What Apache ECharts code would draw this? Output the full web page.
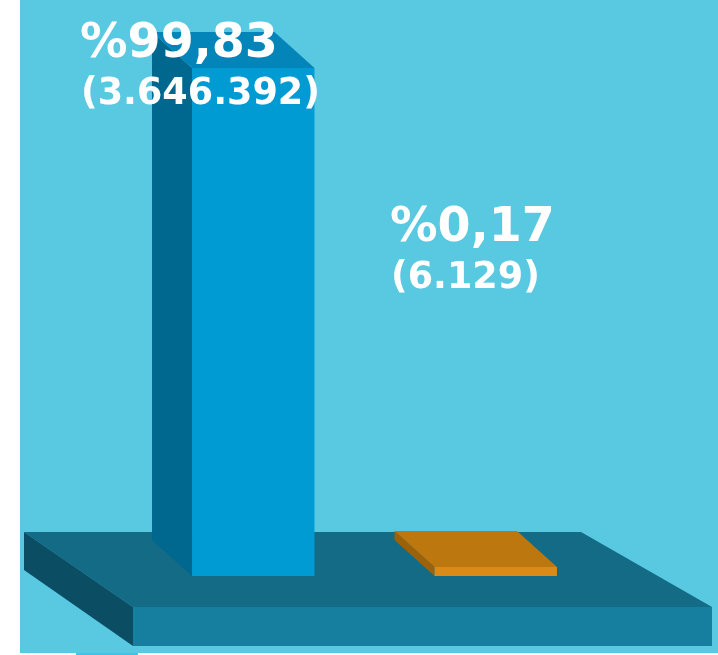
<!DOCTYPE html>
<html>
<head>
<meta charset="utf-8">
<script src="https://cdn.jsdelivr.net/npm/echarts@6/dist/echarts.min.js"></script>
<style>
  html, body { margin: 0; padding: 0; background: #fff; }
  #main { width: 718px; height: 655px; }
</style>
</head>
<body>
<div id="main"></div>
<script>
var categories = ['A', 'B'];
var values = [3646392, 6129];
// front / side / top colours per bar
var frontColors = ['#019bd4', '#da8a17'];
var sideColors = ['#00678f', '#9b620a'];
var topColors = ['#0385b9', '#bc770f'];

var total = values[0] + values[1];

function fmtCount(v) {
  return String(v).replace(/\B(?=(\d{3})+(?!\d))/g, '.');
}
function fmtPct(v) {
  return '%' + (v / total * 100).toFixed(2).replace('.', ',');
}

var chart = echarts.init(document.getElementById('main'));

// label anchors (left, top of the percent line)
var labelPos = [[80, 46], [390, 230]];

var texts = [];
values.forEach(function (v, i) {
  texts.push({
    type: 'text',
    z: 100,
    left: labelPos[i][0],
    top: labelPos[i][1] - 25,
    style: { text: fmtPct(v), fill: '#fff', font: 'bold 47.5px "DejaVu Sans"' }
  });
  texts.push({
    type: 'text',
    z: 100,
    left: labelPos[i][0] + 1,
    top: labelPos[i][1] + 30,
    style: { text: '(' + fmtCount(v) + ')', fill: '#fff', font: 'bold 36.5px "DejaVu Sans"' }
  });
});

var option = {
  animation: false,
  backgroundColor: '#fff',
  graphic: [
    { type: 'rect', z: -10, shape: { x: 20, y: 0, width: 698, height: 653 }, style: { fill: '#59c9e2' } },
    { type: 'rect', z: -10, shape: { x: 76, y: 653, width: 62, height: 2 }, style: { fill: '#3fc3e6' } }
  ].concat(texts),
  grid: { left: 132, right: 101, top: 68, bottom: 79 },
  xAxis: { type: 'category', data: categories, show: false },
  yAxis: { type: 'value', min: 0, max: values[0], show: false },
  series: [
    {
      // base platform
      type: 'custom',
      z: 1,
      data: [[0, 0]],
      renderItem: function (params, api) {
        var cs = params.coordSys;
        var b = cs.y + cs.height;
        var l = cs.x;
        return {
          type: 'group',
          children: [
            { type: 'polygon', shape: { points: [[l - 108, b - 44], [l + 449, b - 44], [l + 580, b + 31], [l + 1, b + 31]] }, style: { fill: '#136b86' } },
            { type: 'polygon', shape: { points: [[l - 108, b - 44], [l + 1, b + 31], [l + 1, b + 70], [l - 108, b - 6]] }, style: { fill: '#0b4e63' } },
            { type: 'rect', shape: { x: l + 1, y: b + 31, width: 579, height: 39 }, style: { fill: '#167f9f' } }
          ]
        };
      }
    },
    {
      type: 'custom',
      z: 2,
      data: values.map(function (v, i) { return [i, v]; }),
      renderItem: function (params, api) {
        var i = params.dataIndex;
        var base = api.coord([api.value(0), 0]);
        var top = api.coord([api.value(0), api.value(1)]);
        var w = api.size([1, 0])[0] * 0.505;
        var x0 = base[0] - w / 2, x1 = base[0] + w / 2;
        var y1 = base[1];
        var y0 = Math.min(top[1], y1 - 9);
        var dx = -40, dy = -36;
        return {
          type: 'group',
          children: [
            { type: 'polygon', shape: { points: [[x0, y0], [x0 + dx, y0 + dy], [x0 + dx, y1 + dy], [x0, y1]] }, style: { fill: sideColors[i] } },
            { type: 'polygon', shape: { points: [[x0, y0], [x1, y0], [x1 + dx, y0 + dy], [x0 + dx, y0 + dy]] }, style: { fill: topColors[i] } },
            { type: 'rect', shape: { x: x0, y: y0, width: w, height: y1 - y0 }, style: { fill: frontColors[i] } }
          ]
        };
      }
    }
  ]
};

chart.setOption(option);
</script>
</body>
</html>
